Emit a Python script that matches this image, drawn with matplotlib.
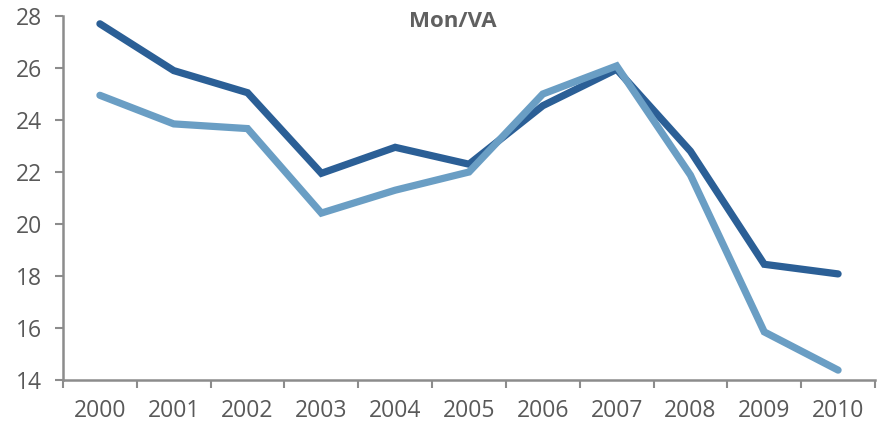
import numpy as np
import matplotlib.pyplot as plt

years = ['2000', '2001', '2002', '2003', '2004', '2005',
         '2006', '2007', '2008', '2009', '2010']
serie_oscura = [27.7, 25.9, 25.05, 21.95, 22.95, 22.3, 24.55, 25.95, 22.8, 18.45, 18.08]
serie_clara = [24.95, 23.85, 23.67, 20.42, 21.3, 22.0, 25.0, 26.08, 21.88, 15.85, 14.38]

gris = '#8c8c8c'
texto = '#595959'
plt.rcParams['font.family'] = ['Open Sans', 'DejaVu Sans']

fig = plt.figure(figsize=(8.82, 4.23), dpi=100)
ax = fig.add_axes([63/882, 43/423, 812/882, 364/423])

x = np.arange(len(years))
ax.plot(x, serie_oscura, color='#2b5f96', lw=5.2, solid_capstyle='round', solid_joinstyle='miter', zorder=3)
ax.plot(x, serie_clara, color='#6a9ec4', lw=5.2, solid_capstyle='round', solid_joinstyle='miter', zorder=4)

ax.set_xlim(-0.5, len(years) - 0.5)
ax.set_ylim(14, 28)
ax.set_yticks(np.arange(14, 29, 2))

# eje de categorias: marcas entre los años, etiquetas centradas
ax.set_xticks(np.arange(-0.5, len(years), 1))
ax.set_xticklabels([])
ax.set_xticks(x, minor=True)
ax.set_xticklabels(years, minor=True)
ax.tick_params(axis='x', which='minor', length=0, pad=14, labelsize=16.5, labelcolor=texto)
ax.tick_params(axis='x', which='major', length=6, width=1.5, color=gris, direction='out')
ax.tick_params(axis='y', length=6, width=1.5, color=gris, pad=9, labelsize=16.5, labelcolor=texto)

for lado in ['top', 'right']:
    ax.spines[lado].set_visible(False)
for lado in ['left', 'bottom']:
    ax.spines[lado].set_color(gris)
    ax.spines[lado].set_linewidth(1.8)

ax.text(0.48, 0.986, 'Mon/VA', transform=ax.transAxes, ha='center', va='center',
        fontsize=16, fontweight='bold', color='#606060')

fig.savefig('out.png', dpi=100)
